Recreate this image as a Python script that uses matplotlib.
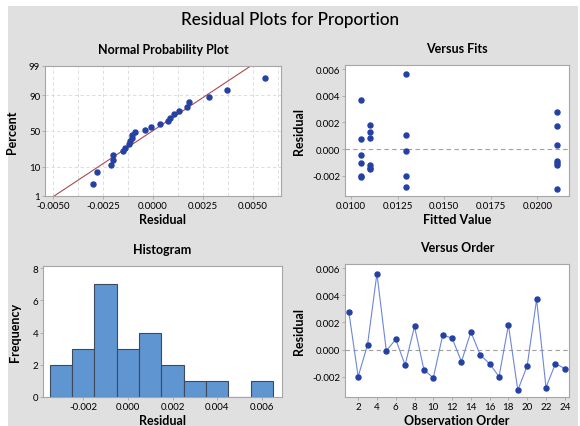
import numpy as np
import matplotlib
matplotlib.use('Agg')
import matplotlib.pyplot as plt
from matplotlib.patches import Rectangle
from statistics import NormalDist

plt.rcParams['font.family'] = ['Lato', 'DejaVu Sans']

# residuals in observation order
resid = [0.0028, -0.0020, 0.00035, 0.0056, -0.0001, 0.00075, -0.00115, 0.0017,
         -0.00148, -0.0021, 0.00105, 0.00085, -0.0009, 0.0013, -0.0004, -0.00105,
         -0.0020, 0.0018, -0.0030, -0.0012, 0.0037, -0.0028, -0.00105, -0.0014]
# fitted values in observation order
fits = [0.02107, 0.01295, 0.02107, 0.01295, 0.01295, 0.01054, 0.01102, 0.02107,
        0.01102, 0.01054, 0.01295, 0.01102, 0.02107, 0.01102, 0.01054, 0.01054,
        0.01054, 0.01102, 0.02107, 0.02107, 0.01054, 0.01295, 0.02107, 0.01102]
order = list(range(1, 25))

pct_ticks = [1, 10, 50, 90, 99]
hist_edges = np.linspace(-0.0035, 0.0065, 11)

W, H = 580, 427
bg = '#e0e0e0'
dot = '#2441a3'
spine_c = '#a6a6a6'

fig = plt.figure(figsize=(W / 100, H / 100), dpi=100, facecolor='white')
fig.patches.append(Rectangle((8 / W, 0), 570 / W, 420 / H, transform=fig.transFigure,
                             facecolor=bg, edgecolor='none', zorder=-10))


def px_axes(l, r, t, b):
    return fig.add_axes([l / W, (H - b) / H, (r - l) / W, (b - t) / H])


def style(ax):
    for s in ax.spines.values():
        s.set_color(spine_c)
        s.set_linewidth(0.8)
    ax.tick_params(labelsize=7, length=2, width=0.6, color=spine_c, pad=1.5)
    ax.set_facecolor('white')


lab_kw = dict(fontsize=9, fontweight='bold')
tit_kw = dict(fontsize=9, fontweight='bold')

fig.text(0.5, 1 - 20 / H, 'Residual Plots for Proportion', ha='center', va='center',
         fontsize=12.3, fontweight='medium')

# normal probability plot
nd = NormalDist()
ax1 = px_axes(45, 281, 67, 197)
style(ax1)
r_sorted = np.sort(resid)
n = len(r_sorted)
p = (np.arange(1, n + 1) - 0.3) / (n + 0.4)
z = [nd.inv_cdf(v) for v in p]
mu, sd = np.mean(resid), np.std(resid, ddof=1)
zl = np.array([nd.inv_cdf(0.005), nd.inv_cdf(0.995)])
ax1.plot(mu + zl * sd, zl, color='#a84a4f', lw=0.8, zorder=2)
ax1.scatter(r_sorted, z, s=13, color=dot, zorder=3)
ax1.set_yticks([nd.inv_cdf(v / 100) for v in pct_ticks])
ax1.set_yticklabels([str(v) for v in pct_ticks])
ax1.set_ylim(nd.inv_cdf(0.01), nd.inv_cdf(0.99))
ax1.set_xlim(-0.0054, 0.0064)
ax1.set_xticks([-0.005, -0.0025, 0, 0.0025, 0.005])
ax1.set_xticklabels(['-0.0050', '-0.0025', '0.0000', '0.0025', '0.0050'])
ax1.set_xticks(np.arange(-0.005, 0.0064, 0.00125), minor=True)
ax1.tick_params(which='minor', length=0)
ax1.grid(True, which='both', axis='x', ls=(0, (4, 3)), color='#d8d8d8', lw=0.6)
ax1.grid(True, which='major', axis='y', ls=(0, (4, 3)), color='#d8d8d8', lw=0.6)
ax1.set_axisbelow(True)
ax1.set_xlabel('Residual', labelpad=2, **lab_kw)
ax1.set_ylabel('Percent', labelpad=8, **lab_kw)
ax1.set_title('Normal Probability Plot', pad=9, **tit_kw)

# versus fits
ax2 = px_axes(345, 569, 66, 197)
style(ax2)
ax2.axhline(0, color='#a0a0a0', ls=(0, (4, 3)), lw=0.8, zorder=1)
ax2.scatter(fits, resid, s=13, color=dot, zorder=3)
ax2.set_xlim(0.00968, 0.0217)
ax2.set_ylim(-0.0035, 0.0063)
ax2.set_xticks([0.01, 0.0125, 0.015, 0.0175, 0.02])
ax2.set_xticklabels(['0.0100', '0.0125', '0.0150', '0.0175', '0.0200'])
ax2.set_yticks([-0.002, 0, 0.002, 0.004, 0.006])
ax2.set_yticklabels(['-0.002', '0.000', '0.002', '0.004', '0.006'])
ax2.set_xlabel('Fitted Value', labelpad=2, **lab_kw)
ax2.set_ylabel('Residual', labelpad=5, **lab_kw)
ax2.set_title('Versus Fits', pad=9, **tit_kw)

# histogram
ax3 = px_axes(43, 282, 267, 398)
style(ax3)
ax3.hist(resid, bins=hist_edges, color='#5f96d2', edgecolor='#3c4a5c', linewidth=0.8)
ax3.set_xlim(-0.0038, 0.0069)
ax3.set_ylim(0, 8.14)
ax3.set_xticks([-0.002, 0, 0.002, 0.004, 0.006])
ax3.set_xticklabels(['-0.002', '0.000', '0.002', '0.004', '0.006'])
ax3.set_yticks([0, 2, 4, 6, 8])
ax3.set_xlabel('Residual', labelpad=2, **lab_kw)
ax3.set_ylabel('Frequency', labelpad=8, **lab_kw)
ax3.set_title('Histogram', pad=9, **tit_kw)

# versus order
ax4 = px_axes(345, 569, 265, 398)
style(ax4)
ax4.axhline(0, color='#a0a0a0', ls=(0, (4, 3)), lw=0.8, zorder=1)
ax4.plot(order, resid, color='#6d86d8', lw=0.8, zorder=2)
ax4.scatter(order, resid, s=13, color=dot, zorder=3)
ax4.set_xlim(0.6, 24.45)
ax4.set_ylim(-0.0035, 0.0063)
ax4.set_xticks(range(2, 25, 2))
ax4.set_yticks([-0.002, 0, 0.002, 0.004, 0.006])
ax4.set_yticklabels(['-0.002', '0.000', '0.002', '0.004', '0.006'])
ax4.set_xlabel('Observation Order', labelpad=2, **lab_kw)
ax4.set_ylabel('Residual', labelpad=5, **lab_kw)
ax4.set_title('Versus Order', pad=9, **tit_kw)

fig.savefig('out.png', dpi=100, facecolor='white')
